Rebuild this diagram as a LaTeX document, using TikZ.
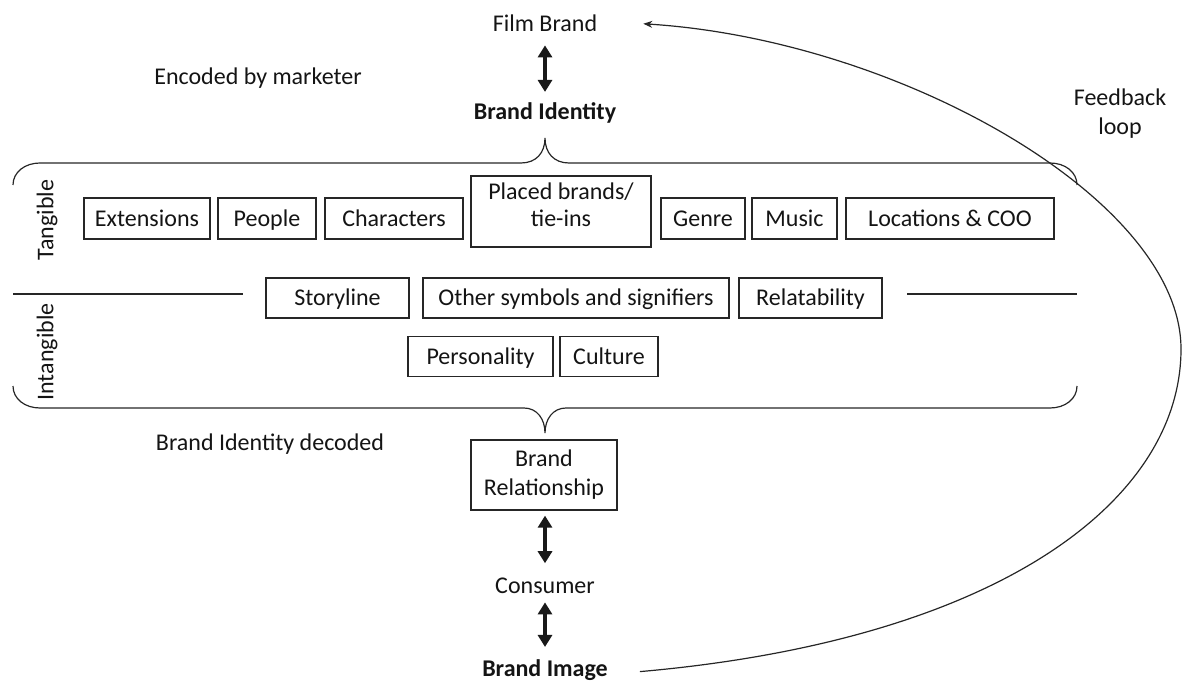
\documentclass[tikz,border=0pt]{standalone}
\usepackage{fontspec}
\setmainfont{Carlito}
\usetikzlibrary{arrows.meta}
\begin{document}
\begin{tikzpicture}[x=1pt,y=-1pt,
  every node/.style={font=\fontsize{24}{28}\selectfont, text=black!92},
  lbl/.style={inner sep=0pt, anchor=base},
  box/.style={draw=black!85, line width=1.3pt, inner sep=0pt, minimum height=41pt, align=center},
  onebox/.style={box, text height=20pt, text depth=4.5pt},
  dbl/.style={line width=3.5pt, black!90, {Triangle[length=12pt,width=14pt]}-{Triangle[length=12pt,width=14pt]}},
  thin/.style={line width=1.2pt, black!85},
  fb/.style={line width=1.2pt, black!85, -{Stealth[length=9pt,width=7pt]}}
]
\useasboundingbox (0,0) rectangle (1183,684);

% top labels
\node[lbl] (film) at (545,32) {Film Brand};
\node[lbl,font=\fontsize{24}{28}\selectfont\bfseries] (bid) at (545,120) {Brand Identity};
\node[lbl] (enc) at (258,85) {Encoded by marketer};
\node[lbl] (fbl) at (1120,106) {Feedback};
\node[lbl] (fbl2) at (1120,135) {loop};

% tangible row
\node[onebox, minimum width=126pt] (ext) at (147,218.5) {Extensions};
\node[onebox, minimum width=98pt] (people) at (267,218.5) {People};
\node[onebox, minimum width=138pt] (chars) at (394,218.5) {Characters};
\node[box, minimum width=180pt, minimum height=71pt] (placed) at (561,211.5) {};
\node[align=center, inner sep=0pt, font=\fontsize{24}{26.5}\selectfont] (placedtxt) at (561,205) {Placed brands/\\tie-ins};
\node[onebox, minimum width=84pt] (genre) at (703,218.5) {Genre};
\node[onebox, minimum width=85pt] (music) at (794.5,218.5) {Music};
\node[onebox, minimum width=208pt] (loc) at (950,218.5) {Locations \& COO};

% intangible rows
\node[onebox, minimum width=143pt, minimum height=40pt] (story) at (337.5,298) {Storyline};
\node[onebox, minimum width=306pt, minimum height=40pt] (other) at (576,298) {Other symbols and signifiers};
\node[onebox, minimum width=143pt, minimum height=40pt] (relat) at (810.5,298) {Relatability};
\node[onebox, minimum width=145pt, minimum height=40pt] (person) at (480.5,356.5) {Personality};
\node[onebox, minimum width=98pt, minimum height=40pt] (culture) at (609,356.5) {Culture};

% side labels
\node[rotate=90, inner sep=0pt] (tang) at (47,220) {Tangible};
\node[rotate=90, inner sep=0pt] (intang) at (47,352) {Intangible};

% separators
\draw[thin] (13,294) -- (243,294);
\draw[thin] (907,294) -- (1077,294);

% top brace
\draw[thin] (13,185) .. controls (13,172) and (25,163) .. (40,163) -- (521,163)
  .. controls (536,163) and (545,153) .. (545,138)
  .. controls (545,153) and (554,163) .. (569,163) -- (1050,163)
  .. controls (1065,163) and (1077,172) .. (1077,185);
% bottom brace
\draw[thin] (13,386) .. controls (13,399) and (25,408) .. (40,408) -- (524,408)
  .. controls (537,408) and (545,419) .. (545,433)
  .. controls (545,419) and (553,408) .. (566,408) -- (1050,408)
  .. controls (1065,408) and (1077,399) .. (1077,386);

% bottom part
\node[lbl] (dec) at (270,450) {Brand Identity decoded};
\node[box, minimum width=146pt, minimum height=70pt, font=\fontsize{24}{29}\selectfont] (brel) at (544,475) {Brand\\Relationship};
\node[lbl] (cons) at (545,593) {Consumer};
\node[lbl,font=\fontsize{24}{28}\selectfont\bfseries] (bimg) at (545,676) {Brand Image};

% double arrows
\draw[dbl, shorten <=13pt, shorten >=11pt] (film.south) -- (bid.north);
\draw[dbl, shorten <=5pt, shorten >=14pt] (brel.south -| cons.north) -- (cons.north);
\draw[dbl, shorten <=9pt, shorten >=12pt] (cons.south) -- (bimg.north);

% feedback loop
\draw[fb] ([xshift=32pt,yshift=-2pt]bimg.east) .. controls (1000,640) and (1181,500) .. (1181,349)
  .. controls (1181,200) and (900,40) .. ([xshift=46pt]film.east);
\end{tikzpicture}
\end{document}
